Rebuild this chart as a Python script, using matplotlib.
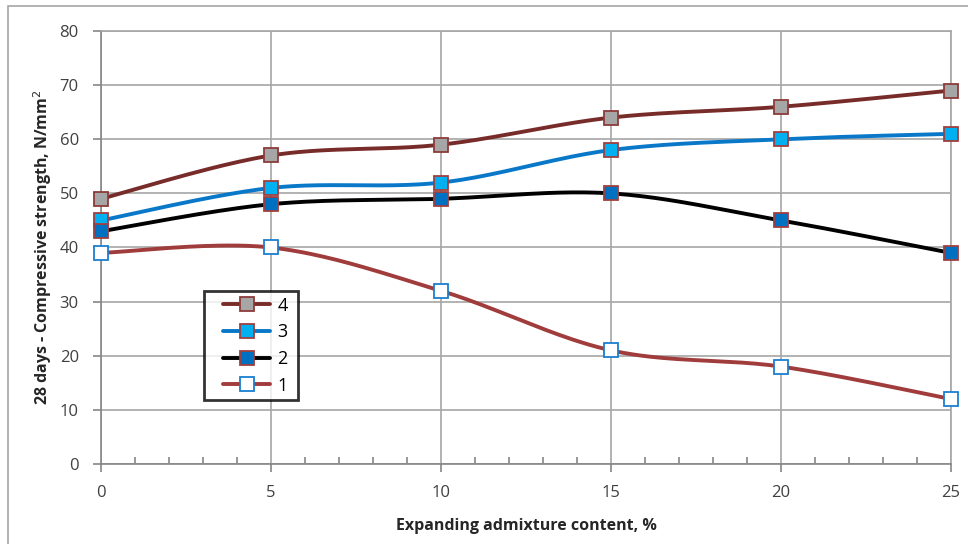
import numpy as np
import matplotlib
matplotlib.use("Agg")
import matplotlib.pyplot as plt
from matplotlib.ticker import MultipleLocator
from matplotlib.legend_handler import HandlerLine2D

plt.rcParams['font.family'] = ['Open Sans', 'DejaVu Sans']

x_vals = [0, 5, 10, 15, 20, 25]
s4 = [49, 57, 59, 64, 66, 69]
s3 = [45, 51, 52, 58, 60, 61]
s2 = [43, 48, 49, 50, 45, 39]
s1 = [39, 40, 32, 21, 18, 12]
labels = ['4', '3', '2', '1']


def smooth(xs, ys, n=40):
    p = np.column_stack([xs, ys]).astype(float)
    out = []
    for i in range(len(p) - 1):
        p0 = p[i - 1] if i > 0 else p[i]
        p3 = p[i + 2] if i + 2 < len(p) else p[i + 1]
        c1 = p[i] + (p[i + 1] - p0) / 6
        c2 = p[i + 1] - (p3 - p[i]) / 6
        t = np.linspace(0, 1, n)[:, None]
        seg = ((1 - t) ** 3) * p[i] + 3 * ((1 - t) ** 2) * t * c1 + 3 * (1 - t) * t ** 2 * c2 + t ** 3 * p[i + 1]
        out.append(seg if i == 0 else seg[1:])
    out = np.vstack(out)
    return out[:, 0], out[:, 1]


fig = plt.figure(figsize=(9.68, 5.44), dpi=100)
ax = fig.add_axes([101 / 968, 1 - 464 / 544, 850 / 968, 433 / 544])

# outer chart border
fig.patches.append(plt.Rectangle((8 / 968, -0.1), 1.2, 1 - 6 / 544 + 0.1, transform=fig.transFigure,
                                 fill=False, edgecolor='#a6a6a6', linewidth=1.2))

series = [
    (s4, '#772c2a', '#a6a6a6', '#8c3b3a'),
    (s3, '#0a78c8', '#00b0f0', '#a0403e'),
    (s2, '#000000', '#0070c0', '#a0403e'),
    (s1, '#a03c3c', '#ffffff', '#1a7fd0'),
]
handles = []
for (ys, lc, mfc, mec), lab in zip(series, labels):
    sx, sy = smooth(x_vals, ys)
    ax.plot(sx, sy, color=lc, linewidth=2.8, zorder=3, solid_capstyle='round', clip_on=False)
    ax.plot(x_vals, ys, linestyle='none', marker='s', markersize=10, markerfacecolor=mfc,
            markeredgecolor=mec, markeredgewidth=1.3, zorder=4, clip_on=False)
    h, = ax.plot([], [], color=lc, linewidth=2.8, marker='s', markersize=10, markerfacecolor=mfc,
                 markeredgecolor=mec, markeredgewidth=1.3, solid_capstyle='round')
    handles.append(h)

ax.set_xlim(0, 25)
ax.set_ylim(0, 80)
ax.xaxis.set_major_locator(MultipleLocator(5))
ax.xaxis.set_minor_locator(MultipleLocator(1))
ax.yaxis.set_major_locator(MultipleLocator(10))
ax.grid(True, which='major', color='#a6a6a6', linewidth=1.2, zorder=0)
ax.set_axisbelow(True)
for sp in ax.spines.values():
    sp.set_color('#a6a6a6')
    sp.set_linewidth(1.2)
ax.spines['left'].set_color('#868686')
ax.spines['bottom'].set_color('#868686')
ax.tick_params(axis='x', which='major', direction='out', length=6, color='#868686', width=1.2,
               labelsize=12, labelcolor='#404040', pad=9)
ax.tick_params(axis='x', which='minor', direction='in', length=5, color='#868686', width=1.2)
ax.tick_params(axis='y', which='major', direction='out', length=6, color='#868686', width=1.2,
               labelsize=12, labelcolor='#404040', pad=10)

ax.set_xlabel('Expanding admixture content, %', fontsize=11.5, fontweight='bold', color='#262626', labelpad=12)
ax.set_ylabel('28 days - Compressive strength, N/mm$^2$', fontsize=11.5, fontweight='bold', color='#262626',
              labelpad=4)

hmap = {h: HandlerLine2D(xpad=0.75) for h in handles}
leg = ax.legend(handles, [l + ' ' for l in labels], loc='upper left', bbox_to_anchor=(0.111, 0.420),
                frameon=True, fancybox=False, edgecolor='black', fontsize=13, handlelength=3.35,
                handletextpad=0.4, labelspacing=0.48, borderpad=0.3, handler_map=hmap)
leg.get_frame().set_linewidth(2)
leg.set_zorder(10)

fig.savefig('out.png', dpi=100)
